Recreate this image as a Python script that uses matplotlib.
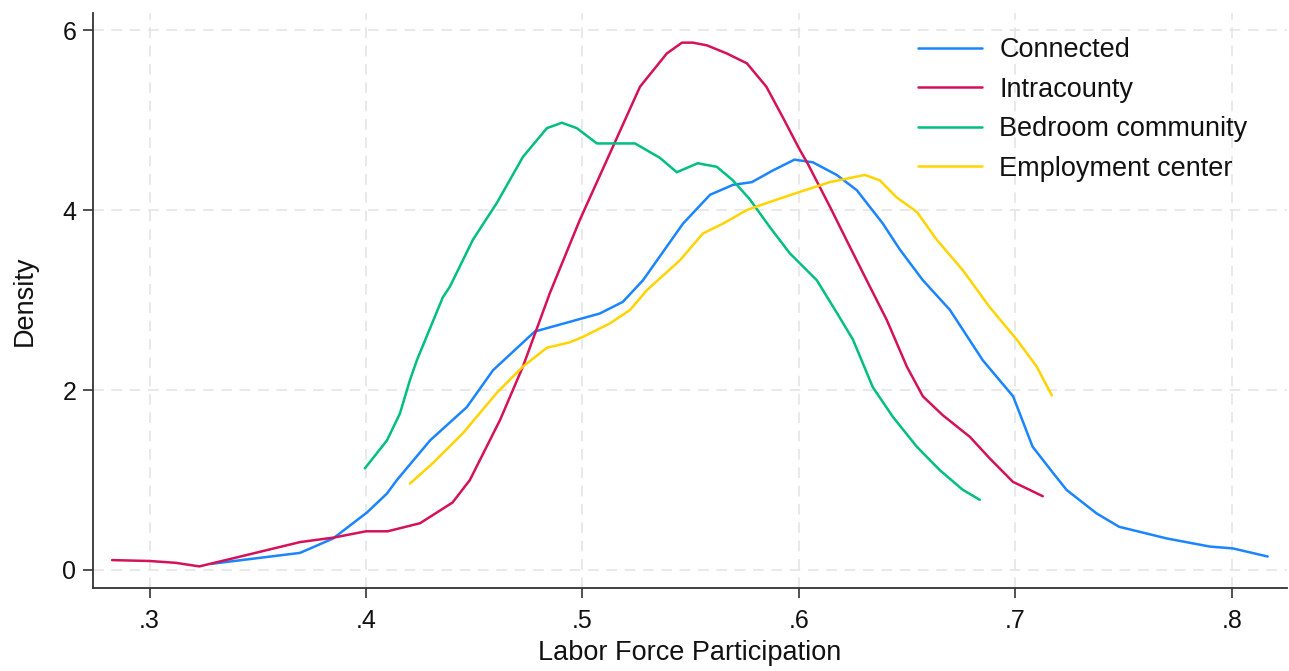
import matplotlib
matplotlib.use("Agg")
import matplotlib.pyplot as plt
import numpy as np

# Kernel density estimates of labor force participation by commuting-zone type
connected_x = [0.329, 0.3695, 0.3848, 0.4005, 0.4097, 0.4143, 0.4296, 0.4466, 0.4587,
               0.478, 0.508, 0.5187, 0.528, 0.5465, 0.559, 0.5696, 0.5783, 0.588,
               0.598, 0.6065, 0.6175, 0.6268, 0.6388, 0.6467, 0.6573, 0.6698, 0.685,
               0.699, 0.708, 0.7174, 0.7237, 0.7375, 0.748, 0.7701, 0.790, 0.8005, 0.8166]
connected_y = [0.07, 0.19, 0.35, 0.64, 0.85, 1.0, 1.44, 1.81, 2.22,
               2.65, 2.85, 2.98, 3.22, 3.85, 4.17, 4.28, 4.31, 4.44,
               4.56, 4.53, 4.39, 4.22, 3.85, 3.56, 3.22, 2.89, 2.33,
               1.93, 1.37, 1.08, 0.89, 0.63, 0.48, 0.35, 0.26, 0.24, 0.15]

intracounty_x = [0.2827, 0.300, 0.312, 0.323, 0.3386, 0.3695, 0.385, 0.400, 0.410,
                 0.425, 0.440, 0.448, 0.462, 0.4725, 0.485, 0.4988, 0.5127, 0.5266,
                 0.539, 0.546, 0.551, 0.5575, 0.5667, 0.576, 0.585, 0.5926, 0.6004,
                 0.604, 0.6143, 0.6236, 0.6328, 0.6406, 0.6499, 0.6573, 0.6665,
                 0.679, 0.6882, 0.6989, 0.7127]
intracounty_y = [0.11, 0.10, 0.08, 0.04, 0.13, 0.31, 0.36, 0.43, 0.43,
                 0.52, 0.75, 1.0, 1.67, 2.26, 3.08, 3.89, 4.63, 5.37,
                 5.74, 5.86, 5.86, 5.83, 5.74, 5.63, 5.37, 5.03, 4.67,
                 4.52, 4.04, 3.59, 3.15, 2.78, 2.26, 1.93, 1.72,
                 1.48, 1.24, 0.98, 0.82]

bedroom_x = [0.3995, 0.4097, 0.4157, 0.4203, 0.4235, 0.4355, 0.4388, 0.4494, 0.4605,
             0.4725, 0.4836, 0.4905, 0.4974, 0.5067, 0.5173, 0.5243, 0.5358, 0.5436,
             0.5533, 0.5621, 0.5695, 0.5773, 0.5866, 0.5958, 0.6083, 0.6175, 0.625,
             0.6342, 0.6435, 0.6545, 0.6651, 0.6758, 0.6836]
bedroom_y = [1.13, 1.44, 1.74, 2.11, 2.33, 3.03, 3.15, 3.67, 4.08,
             4.59, 4.91, 4.97, 4.91, 4.74, 4.74, 4.74, 4.58, 4.42,
             4.52, 4.48, 4.33, 4.12, 3.81, 3.52, 3.22, 2.86, 2.56,
             2.03, 1.70, 1.37, 1.11, 0.89, 0.78]

employment_x = [0.4203, 0.431, 0.4448, 0.4605, 0.4725, 0.4836, 0.4942, 0.5002, 0.5127,
                0.522, 0.5298, 0.545, 0.5557, 0.565, 0.576, 0.5866, 0.599, 0.6143,
                0.6305, 0.6374, 0.6452, 0.6545, 0.6637, 0.6758, 0.6882, 0.7007,
                0.7099, 0.7169]
employment_y = [0.96, 1.19, 1.52, 1.97, 2.26, 2.47, 2.53, 2.59, 2.74,
                2.89, 3.11, 3.44, 3.74, 3.85, 4.0, 4.09, 4.19, 4.31,
                4.39, 4.33, 4.14, 3.98, 3.67, 3.33, 2.92, 2.56,
                2.26, 1.94]

series_labels = ["Connected", "Intracounty", "Bedroom community", "Employment center"]
x_ticks = [0.3, 0.4, 0.5, 0.6, 0.7, 0.8]
x_tick_labels = [".3", ".4", ".5", ".6", ".7", ".8"]
y_ticks = [0, 2, 4, 6]

colors = ["#1a85ff", "#d41159", "#00bf7f", "#ffd400"]

plt.rcParams["font.family"] = ["Liberation Sans", "DejaVu Sans"]

fig = plt.figure(figsize=(12.89, 6.71), dpi=100)
ax = fig.add_axes([0.0722, 0.1237, 0.926, 0.857])

data = [(connected_x, connected_y), (intracounty_x, intracounty_y),
        (bedroom_x, bedroom_y), (employment_x, employment_y)]
for (xs, ys), c, lab in zip(data, colors, series_labels):
    ax.plot(xs, ys, color=c, lw=1.8, label=lab, solid_capstyle="round",
            solid_joinstyle="round")

ax.set_xlim(0.2739, 0.8254)
ax.set_ylim(-0.2, 6.19)
ax.set_xticks(x_ticks)
ax.set_xticklabels(x_tick_labels)
ax.set_yticks(y_ticks)

ax.grid(True, color="#e3e3e3", lw=1.1, ls=(0, (7, 5)))
ax.set_axisbelow(True)

for s in ("top", "right"):
    ax.spines[s].set_visible(False)
for s in ("left", "bottom"):
    ax.spines[s].set_color("#333333")
    ax.spines[s].set_linewidth(1.3)
ax.tick_params(axis="both", direction="out", length=7, width=1.2,
               color="#333333", labelsize=18, labelcolor="#111111")
ax.tick_params(axis="x", pad=8)
ax.tick_params(axis="y", pad=5)

ax.set_xlabel("Labor Force Participation", fontsize=19.5, labelpad=5,
              color="#111111")
ax.set_ylabel("Density", fontsize=19.5, labelpad=18, color="#111111")

leg = ax.legend(loc="upper left", bbox_to_anchor=(918 / 1289, 1 - 37 / 671),
                bbox_transform=fig.transFigure, frameon=False,
                fontsize=19.5, handlelength=2.35, handletextpad=0.65,
                labelspacing=0.5, borderaxespad=0, borderpad=0)
for t in leg.get_texts():
    t.set_color("#111111")

fig.savefig("out.png", dpi=100, facecolor="white")
